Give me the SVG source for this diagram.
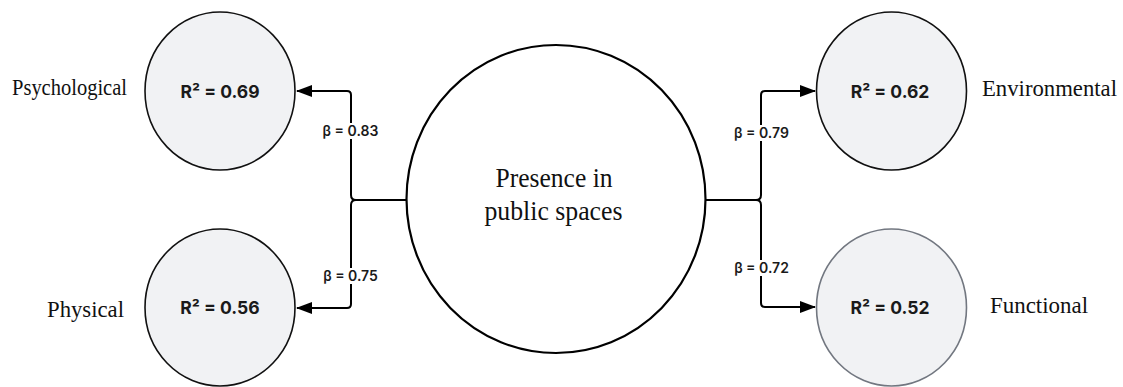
<svg xmlns="http://www.w3.org/2000/svg" width="1123" height="387" viewBox="0 0 1123 387">
  <defs>
    <style>
      .bg { fill: #ffffff; }
      .outcome { fill: #f1f2f4; stroke: #111111; stroke-width: 1.6; }
      .outcome.muted { stroke: #727780; }
      .core { fill: #ffffff; stroke: #000000; stroke-width: 2.2; }
      .r2 { font-family: Inter, "Liberation Sans", sans-serif; font-weight: 700; font-size: 17.5px; fill: #1a1a1a; text-anchor: middle; }
      .name { font-family: "Liberation Serif", serif; font-size: 24px; fill: #111111; }
      .core-text { font-family: "Liberation Serif", serif; font-size: 27px; fill: #111111; text-anchor: middle; }
      .link { fill: none; stroke: #000000; stroke-width: 2; stroke-linejoin: round; }
      .beta-bg { fill: #ffffff; }
      .beta { font-family: Inter, "Liberation Sans", sans-serif; font-weight: 600; font-size: 14px; fill: #1a1a1a; text-anchor: middle; }
    </style>
    <marker id="arrow" viewBox="0 0 16 12" refX="15" refY="6" markerWidth="16" markerHeight="12" markerUnits="userSpaceOnUse" orient="auto">
      <path d="M0,0 L16,6 L0,12 Z" fill="#000000"/>
    </marker>
  </defs>

  <rect class="bg" x="0" y="0" width="1123" height="387"/>

  <!-- connectors from the central construct to each outcome -->
  <g id="connectors">
    <path class="link" marker-end="url(#arrow)" d="M406,200 H356 Q351,200 351,195 V95 Q351,91 347,91 H297"/>
    <path class="link" marker-end="url(#arrow)" d="M406,200 H356 Q351,200 351,205 V304 Q351,308 347,308 H297"/>
    <path class="link" marker-end="url(#arrow)" d="M705,200 H756 Q761,200 761,195 V95 Q761,91 765,91 H815"/>
    <path class="link" marker-end="url(#arrow)" d="M705,200 H756 Q761,200 761,205 V303 Q761,307 765,307 H815"/>

    <rect class="beta-bg" x="322" y="123" width="57" height="16"/>
    <text class="beta" x="350.5" y="136">β = 0.83</text>
    <rect class="beta-bg" x="322" y="268" width="57" height="16"/>
    <text class="beta" x="350.5" y="281">β = 0.75</text>
    <rect class="beta-bg" x="733" y="125" width="57" height="16"/>
    <text class="beta" x="761.5" y="138">β = 0.79</text>
    <rect class="beta-bg" x="733" y="260" width="57" height="16"/>
    <text class="beta" x="761.5" y="273">β = 0.72</text>
  </g>

  <g id="presence">
    <ellipse class="core" cx="556" cy="199" rx="149.5" ry="154"/>
    <text class="core-text" x="554" y="187" textLength="117" lengthAdjust="spacingAndGlyphs">Presence in</text>
    <text class="core-text" x="553.5" y="220" textLength="138" lengthAdjust="spacingAndGlyphs">public spaces</text>
  </g>

  <g id="psychological">
    <ellipse class="outcome" cx="220" cy="91" rx="75" ry="79"/>
    <text class="r2" x="220" y="98">R² = 0.69</text>
    <text class="name" x="12" y="95" textLength="115" lengthAdjust="spacingAndGlyphs">Psychological</text>
  </g>

  <g id="physical">
    <ellipse class="outcome" cx="220" cy="307.5" rx="75" ry="78.5"/>
    <text class="r2" x="220" y="314">R² = 0.56</text>
    <text class="name" x="47" y="317" textLength="77" lengthAdjust="spacingAndGlyphs">Physical</text>
  </g>

  <g id="environmental">
    <ellipse class="outcome" cx="891.5" cy="91" rx="75" ry="79"/>
    <text class="r2" x="890" y="98">R² = 0.62</text>
    <text class="name" x="982" y="96" textLength="135" lengthAdjust="spacingAndGlyphs">Environmental</text>
  </g>

  <g id="functional">
    <ellipse class="outcome muted" cx="891.5" cy="307.5" rx="75" ry="78.5"/>
    <text class="r2" x="890" y="314">R² = 0.52</text>
    <text class="name" x="990" y="313" textLength="98" lengthAdjust="spacingAndGlyphs">Functional</text>
  </g>
</svg>
